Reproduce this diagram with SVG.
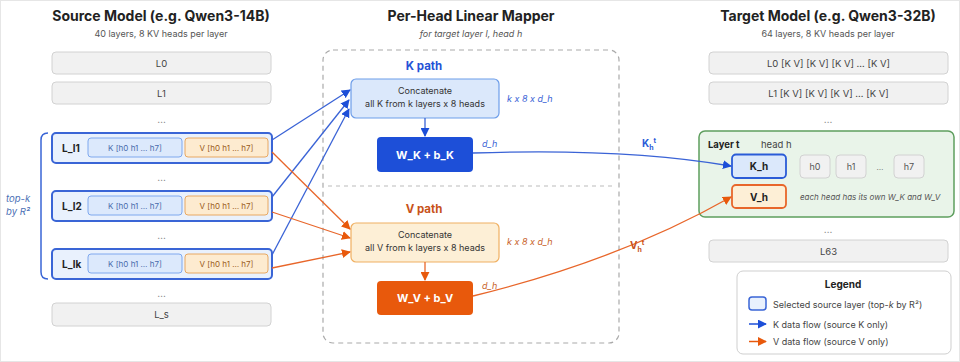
<svg xmlns="http://www.w3.org/2000/svg" width="960" height="362" viewBox="0 0 960 362">
<defs>
<style>
text{font-family:Inter,"Noto Sans","Liberation Sans",sans-serif;}
.title{font-size:14px;font-weight:700;fill:#222;text-anchor:middle;}
.sub{font-size:9px;fill:#555;text-anchor:middle;}
.subi{font-size:9px;fill:#555;text-anchor:middle;font-style:italic;}
.grey{fill:#f1f1f1;stroke:#d2d2d2;stroke-width:1;}
.glabel{font-size:9.5px;fill:#444;text-anchor:middle;}
.dots{font-size:10px;fill:#777;text-anchor:middle;}
.sel{fill:#e9f1fd;stroke:#3a65d6;stroke-width:2;}
.lname{font-size:10px;font-weight:700;fill:#222;}
.ksub{fill:#dce9fc;stroke:#7ea8ee;stroke-width:1;}
.vsub{fill:#fdebd0;stroke:#e8a862;stroke-width:1;}
.ktxt{font-size:8px;fill:#4a6aab;text-anchor:middle;}
.vtxt{font-size:8px;fill:#9a5b20;text-anchor:middle;}
.path{font-size:11.5px;font-weight:700;}
.ctxt{font-size:9px;fill:#333;text-anchor:middle;}
.dim{font-size:9px;font-style:italic;}
.wtxt{font-size:11px;font-weight:700;fill:#fff;text-anchor:middle;}
.kline{fill:none;stroke:#3a63d6;stroke-width:1.3;}
.vline{fill:none;stroke:#e8662a;stroke-width:1.3;}
.hbox{fill:#f1f1f1;stroke:#d2d2d2;stroke-width:1;}
.htxt{font-size:9px;fill:#555;text-anchor:middle;}
.leg{font-size:9px;fill:#444;}
</style>
<marker id="ak" viewBox="0 0 10 10" refX="9" refY="5" markerWidth="9" markerHeight="9" markerUnits="userSpaceOnUse" orient="auto"><path d="M0,0 L10,5 L0,10 z" fill="#1d4fd8"/></marker>
<marker id="av" viewBox="0 0 10 10" refX="9" refY="5" markerWidth="9" markerHeight="9" markerUnits="userSpaceOnUse" orient="auto"><path d="M0,0 L10,5 L0,10 z" fill="#e8590c"/></marker>
</defs>
<rect x="0.5" y="0.5" width="959" height="361" fill="#fff" stroke="#e6e6e6"/>

<!-- Source model -->
<g id="source-header">
<text class="title" x="161" y="21">Source Model (e.g. Qwen3-14B)</text>
<text class="sub" x="161" y="37">40 layers, 8 KV heads per layer</text>
</g>
<g id="src-L0"><rect class="grey" x="52" y="52" width="219" height="22" rx="4"/><text class="glabel" x="161.5" y="66.5">L0</text></g>
<g id="src-L1"><rect class="grey" x="52" y="82" width="219" height="22" rx="4"/><text class="glabel" x="161.5" y="96.5">L1</text></g>
<text class="dots" x="161.5" y="123">…</text>
<g id="src-Ll1">
<rect class="sel" x="52" y="133" width="220" height="30" rx="4"/>
<text class="lname" x="62" y="151.5">L_l1</text>
<rect class="ksub" x="88" y="138" width="94" height="19" rx="3"/><text class="ktxt" x="135" y="150.5">K [h0 h1 … h7]</text>
<rect class="vsub" x="185" y="138" width="83" height="19" rx="3"/><text class="vtxt" x="226.5" y="150.5">V [h0 h1 … h7]</text>
</g>
<text class="dots" x="161.5" y="181">…</text>
<g id="src-Ll2">
<rect class="sel" x="52" y="191" width="220" height="30" rx="4"/>
<text class="lname" x="62" y="209.5">L_l2</text>
<rect class="ksub" x="88" y="196" width="94" height="19" rx="3"/><text class="ktxt" x="135" y="208.5">K [h0 h1 … h7]</text>
<rect class="vsub" x="185" y="196" width="83" height="19" rx="3"/><text class="vtxt" x="226.5" y="208.5">V [h0 h1 … h7]</text>
</g>
<text class="dots" x="161.5" y="239">…</text>
<g id="src-Llk">
<rect class="sel" x="52" y="249" width="220" height="30" rx="4"/>
<text class="lname" x="62" y="267.5">L_lk</text>
<rect class="ksub" x="88" y="254" width="94" height="19" rx="3"/><text class="ktxt" x="135" y="266.5">K [h0 h1 … h7]</text>
<rect class="vsub" x="185" y="254" width="83" height="19" rx="3"/><text class="vtxt" x="226.5" y="266.5">V [h0 h1 … h7]</text>
</g>
<text class="dots" x="161.5" y="297">…</text>
<g id="src-Ls"><rect class="grey" x="52" y="303" width="219" height="23" rx="4"/><text class="glabel" x="161.5" y="318">L_s</text></g>
<g id="topk-bracket">
<path d="M48,133 Q41,133 41,140 L41,272 Q41,279 48,279" fill="none" stroke="#3a65d6" stroke-width="1.5"/>
<text x="6" y="202" style="font-size:9.5px;font-style:italic;fill:#4a6fb5">top-k</text>
<text x="6" y="215" style="font-size:9.5px;font-style:italic;fill:#4a6fb5">by R²</text>
</g>

<!-- Mapper -->
<g id="mapper">
<text class="title" x="471" y="21">Per-Head Linear Mapper</text>
<text class="subi" x="471" y="37">for target layer l, head h</text>
<rect x="323" y="50" width="296" height="293" rx="10" fill="none" stroke="#aaa" stroke-width="1.2" stroke-dasharray="5,4"/>
<line x1="328" y1="186" x2="612" y2="186" stroke="#bbb" stroke-width="1" stroke-dasharray="4,4"/>
</g>
<g id="k-path">
<text class="path" x="424" y="70" text-anchor="middle" fill="#2553d6">K path</text>
</g>
<g id="k-concat">
<rect x="351" y="79" width="148" height="39" rx="5" fill="#dbe8fb" stroke="#6d9de9" stroke-width="1.2"/>
<text class="ctxt" x="425" y="94">Concatenate</text>
<text class="ctxt" x="425" y="107">all K from k layers x 8 heads</text>
<text class="dim" x="507" y="102" fill="#3a63d6">k x 8 x d_h</text>
</g>
<g id="wk">
<rect x="377" y="137" width="96" height="35" rx="4" fill="#1d4fd8"/>
<text class="wtxt" x="425" y="158.5">W_K + b_K</text>
<text class="dim" x="482" y="147" fill="#3a63d6">d_h</text>
</g>
<g id="v-path">
<text class="path" x="424" y="213" text-anchor="middle" fill="#c8521a">V path</text>
</g>
<g id="v-concat">
<rect x="351" y="223" width="148" height="39" rx="5" fill="#fdefd6" stroke="#f0b062" stroke-width="1.2"/>
<text class="ctxt" x="425" y="238">Concatenate</text>
<text class="ctxt" x="425" y="251">all V from k layers x 8 heads</text>
<text class="dim" x="507" y="245" fill="#c8622a">k x 8 x d_h</text>
</g>
<g id="wv">
<rect x="377" y="281" width="96" height="34" rx="4" fill="#e8590c"/>
<text class="wtxt" x="425" y="302">W_V + b_V</text>
<text class="dim" x="482" y="289" fill="#c8622a">d_h</text>
</g>

<!-- Target -->
<g id="target-header">
<text class="title" x="828" y="21">Target Model (e.g. Qwen3-32B)</text>
<text class="sub" x="828" y="37">64 layers, 8 KV heads per layer</text>
</g>
<g id="tgt-L0"><rect class="grey" x="709" y="52" width="239" height="22" rx="4"/><text class="glabel" x="828.5" y="66.5">L0 [K V] [K V] [K V] … [K V]</text></g>
<g id="tgt-L1"><rect class="grey" x="709" y="82" width="239" height="22" rx="4"/><text class="glabel" x="828.5" y="96.5">L1 [K V] [K V] [K V] … [K V]</text></g>
<text class="dots" x="828" y="123">…</text>
<g id="layer-t">
<rect x="699" y="131" width="255" height="86" rx="6" fill="#e9f4e9" stroke="#5e9e5e" stroke-width="1.5"/>
<text x="708" y="148" style="font-size:9.5px;font-weight:700;fill:#222">Layer t</text>
<text x="761" y="148" style="font-size:9.5px;fill:#444">head h</text>
<text x="800" y="200" style="font-size:8px;font-style:italic;fill:#555">each head has its own W_K and W_V</text>
</g>
<g id="k-h"><rect x="732" y="154.5" width="54" height="23.5" rx="4" fill="#dbe8fb" stroke="#2a5bd7" stroke-width="1.8"/><text x="759" y="170" text-anchor="middle" style="font-size:10px;font-weight:700;fill:#222">K_h</text></g>
<g id="v-h"><rect x="732" y="185" width="54" height="23" rx="4" fill="#fdefd6" stroke="#e8662a" stroke-width="1.8"/><text x="759" y="200.5" text-anchor="middle" style="font-size:10px;font-weight:700;fill:#222">V_h</text></g>
<g id="h0"><rect class="hbox" x="800" y="155" width="30" height="23" rx="4"/><text class="htxt" x="815" y="170">h0</text></g>
<g id="h1"><rect class="hbox" x="836" y="155" width="30" height="23" rx="4"/><text class="htxt" x="851" y="170">h1</text></g>
<text class="dots" x="880" y="170" style="font-size:8px">…</text>
<g id="h7"><rect class="hbox" x="894" y="155" width="30" height="23" rx="4"/><text class="htxt" x="909" y="170">h7</text></g>
<text class="dots" x="828" y="233">…</text>
<g id="tgt-L63"><rect class="grey" x="709" y="240" width="239" height="22" rx="4"/><text class="glabel" x="828.5" y="254.5">L63</text></g>

<!-- Legend -->
<g id="legend">
<rect x="737" y="271" width="214" height="83" rx="6" fill="#fff" stroke="#cfcfcf" stroke-width="1"/>
<text x="843" y="288" text-anchor="middle" style="font-size:10px;font-weight:700;fill:#222">Legend</text>
<rect x="749" y="297" width="17" height="13" rx="3" fill="#e9f1fd" stroke="#3a65d6" stroke-width="1.5"/>
<text class="leg" x="773" y="307.5">Selected source layer (top-<tspan font-style="italic">k</tspan> by R²)</text>
<line x1="749" y1="324" x2="766" y2="324" stroke="#1d4fd8" stroke-width="1.5" marker-end="url(#ak)"/>
<text class="leg" x="773" y="327.5">K data flow (source K only)</text>
<line x1="749" y1="341.5" x2="766" y2="341.5" stroke="#e8590c" stroke-width="1.5" marker-end="url(#av)"/>
<text class="leg" x="773" y="345">V data flow (source V only)</text>
</g>

<!-- Connectors -->
<g id="connectors">
<line class="kline" x1="272" y1="140" x2="350" y2="90" marker-end="url(#ak)"/>
<line class="kline" x1="272" y1="197" x2="349" y2="100" marker-end="url(#ak)"/>
<line class="kline" x1="272" y1="255" x2="349" y2="109" marker-end="url(#ak)"/>
<line class="vline" x1="272" y1="152" x2="350" y2="229" marker-end="url(#av)"/>
<line class="vline" x1="272" y1="212" x2="350" y2="238" marker-end="url(#av)"/>
<line class="vline" x1="272" y1="268" x2="350" y2="252" marker-end="url(#av)"/>
<line class="kline" x1="425" y1="118" x2="425" y2="136" marker-end="url(#ak)"/>
<line class="vline" x1="425" y1="262" x2="425" y2="280" marker-end="url(#av)"/>
<path class="kline" d="M473,153 C560,150 650,152 731,166" marker-end="url(#ak)"/>
<path class="vline" d="M473,296 Q620,260 731,197" marker-end="url(#av)"/>
<text x="642" y="147" style="font-size:10px;font-weight:700;fill:#2a5bd7">K<tspan dy="3" font-size="7">h</tspan><tspan dy="-7" font-size="7">t</tspan></text>
<text x="630" y="249" style="font-size:10px;font-weight:700;fill:#c8521a">V<tspan dy="3" font-size="7">h</tspan><tspan dy="-7" font-size="7">t</tspan></text>
</g>
</svg>
